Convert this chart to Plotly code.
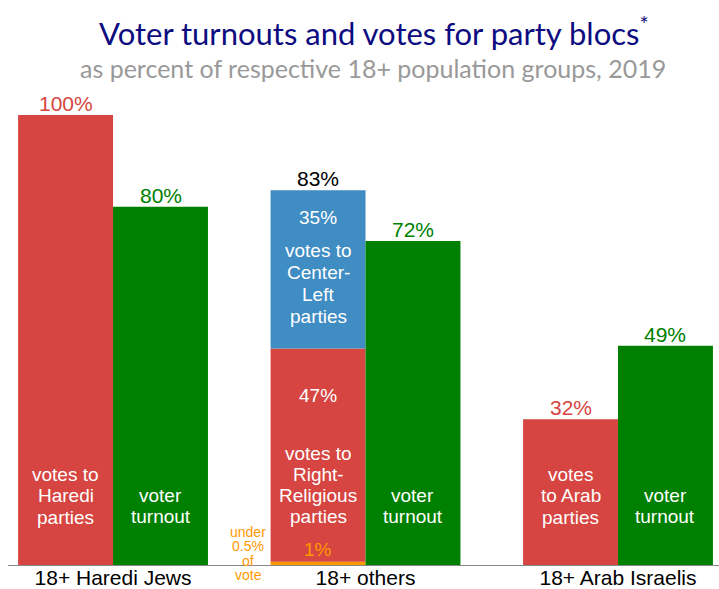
import plotly.graph_objects as go

categories = ["18+ Haredi Jews", "18+ others", "18+ Arab Israelis"]
bloc_votes = [100, 47.4, 32.4]      # red: votes to Haredi / Right-Religious / Arab parties
center_left = [0, 35.2, 0]          # blue
other_small = [0, 0.7, 0]           # orange (under 0.5% of vote bucket)
turnout = [79.6, 72, 48.7]          # green
total_labels = ["100%", "83%", "32%"]
turnout_labels = ["80%", "72%", "49%"]

RED = "#d64541"
GREEN = "#008000"
BLUE = "#3f8dc3"
ORANGE = "#ff9900"
FONT = "Liberation Sans, Arial, sans-serif"

xs = [0, 1, 2]
W = 0.376
off = W / 2

# pixel geometry of the plot area (for text placement only)
T, B = 90, 565
YMAX = (B - T) / 4.5


def py2paper(py):
    return (B - py) / (B - T)


fig = go.Figure()
fig.add_trace(go.Bar(x=xs, y=other_small, width=W, offset=-W, marker_color=ORANGE,
                     marker_line_width=0, hoverinfo="skip"))
fig.add_trace(go.Bar(x=xs, y=bloc_votes, base=other_small, width=W, offset=-W,
                     marker_color=RED, marker_line_width=0, hoverinfo="skip"))
fig.add_trace(go.Bar(x=xs, y=center_left,
                     base=[a + b for a, b in zip(other_small, bloc_votes)],
                     width=W, offset=-W, marker_color=BLUE, marker_line_width=0, hoverinfo="skip"))
fig.add_trace(go.Bar(x=xs, y=turnout, width=W, offset=0, marker_color=GREEN,
                     marker_line_width=0, hoverinfo="skip"))

ann = []


def block(x, py0, text, size=19, color="white", spacing=21.5):
    for k, line in enumerate(text.split("<br>")):
        ann.append(dict(x=x, yref="paper", y=py2paper(py0 + k * spacing), text=line,
                        showarrow=False, yanchor="middle",
                        font=dict(size=size, color=color, family=FONT)))


tops = [a + b + c for a, b, c in zip(other_small, bloc_votes, center_left)]
top_colors = [RED, "black", RED]
for i in range(3):
    ann.append(dict(x=xs[i] - off, y=tops[i], text=total_labels[i], showarrow=False,
                    yanchor="bottom", yshift=-2, font=dict(size=21, color=top_colors[i], family=FONT)))
    ann.append(dict(x=xs[i] + off, y=turnout[i], text=turnout_labels[i], showarrow=False,
                    yanchor="bottom", yshift=-2, font=dict(size=21, color=GREEN, family=FONT)))
    block(xs[i] + off, 495, "voter<br>turnout")

block(xs[0] - off, 474, "votes to<br>Haredi<br>parties")
block(xs[2] - off, 474, "votes<br>to Arab<br>parties")
block(xs[1] - off, 217, "35%")
block(xs[1] - off, 250, "votes to<br>Center-<br>Left<br>parties", spacing=22)
block(xs[1] - off, 395, "47%")
block(xs[1] - off, 453, "votes to<br>Right-<br>Religious<br>parties", spacing=21.3)
block(xs[1] - off, 549, "1%", color=ORANGE)
block(0.535, 532, "under<br>0.5%<br>of<br>vote", size=14, color=ORANGE, spacing=14.3)

ann.append(dict(xref="paper", yref="paper", x=0.513, y=py2paper(68),
                text="as percent of respective 18+ population groups, 2019",
                showarrow=False, yanchor="middle", font=dict(size=25, color="#999999", family="Lato")))

fig.update_layout(
    width=719, height=589,
    margin=dict(l=8, r=0, t=T, b=589 - B, autoexpand=False),
    paper_bgcolor="white", plot_bgcolor="white",
    showlegend=False,
    title=dict(text="Voter turnouts and votes for party blocs<sup>*</sup>", x=0.52, xanchor="center",
               y=1 - 34 / 589, yanchor="middle", yref="container",
               font=dict(size=31, color="#0c0c80", family="Lato")),
    annotations=ann,
    xaxis=dict(range=[-0.416, 2.4], tickvals=xs, ticktext=categories, showgrid=False,
               zeroline=False, showline=True, linecolor="#888888", linewidth=1, ticks="",
               tickfont=dict(size=21, color="black", family=FONT), fixedrange=True,
               automargin=False, ticklabelstandoff=-6),
    yaxis=dict(range=[0, YMAX], visible=False, fixedrange=True, automargin=False),
)

fig.write_html("out.html")
